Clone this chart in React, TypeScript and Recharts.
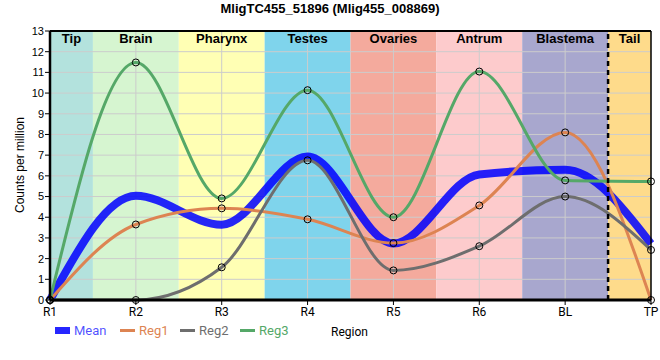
import React from "react";
import {
  LineChart,
  Line,
  XAxis,
  YAxis,
  ReferenceArea,
  ReferenceLine,
} from "recharts";

// ---- data ----
const categories = ["R1", "R2", "R3", "R4", "R5", "R6", "BL", "TP"];
const meanValues = [0, 5.04, 3.64, 6.93, 2.73, 6.07, 6.29, 2.72];
const reg1Values = [0, 3.65, 4.43, 3.9, 2.75, 4.57, 8.1, 0];
const reg2Values = [0, 0, 1.58, 6.75, 1.43, 2.6, 5.0, 2.42];
const reg3Values = [0, 11.48, 4.91, 10.14, 4.0, 11.04, 5.78, 5.73];

const bandNames = ["Tip", "Brain", "Pharynx", "Testes", "Ovaries", "Antrum", "Blastema", "Tail"];
const bandStarts = [0, 0.5, 1.5, 2.5, 3.5, 4.5, 5.5, 6.5];
const bandEnds = [0.5, 1.5, 2.5, 3.5, 4.5, 5.5, 6.5, 7];
const bandColors = ["#b3e2dd", "#d6f5d0", "#ffffb4", "#7fd4ec", "#f4aa9d", "#fdcbcc", "#a8a7ce", "#fedb8b"];

const yTicks = [0, 1, 2, 3, 4, 5, 6, 7, 8, 9, 10, 11, 12, 13];
const xTicks = [0, 1, 2, 3, 4, 5, 6, 7];
const tailBoundary = 6.5;

const title = "MligTC455_51896 (Mlig455_008869)";
const yLabel = "Counts per million";
const xLabel = "Region";

const seriesNames = ["Mean", "Reg1", "Reg2", "Reg3"];
const seriesColors = ["#0000ff", "#dd8452", "#6e6e6e", "#55a868"];

const data = categories.map((c, i) => ({
  x: i,
  Mean: meanValues[i],
  Reg1: reg1Values[i],
  Reg2: reg2Values[i],
  Reg3: reg3Values[i],
}));

const dotStyle = { r: 3.5, fill: "none", stroke: "#000", strokeWidth: 1 };

export default function App() {
  return (
    <div style={{ position: "absolute", left: 0, top: 0, width: 660, height: 360, background: "#fff" }}>
      <LineChart
        width={660}
        height={360}
        data={data}
        margin={{ top: 31, right: 9, left: 0, bottom: 30 }}
      >
        {bandNames.map((n, i) => (
          <ReferenceArea
            key={"band" + n}
            x1={bandStarts[i]}
            x2={bandEnds[i]}
            y1={0}
            y2={13}
            fill={bandColors[i]}
            fillOpacity={1}
            stroke="none"
            zIndex={50}
          />
        ))}
        {yTicks.slice(1, -1).map((t) => (
          <ReferenceLine key={"gy" + t} y={t} stroke="#cccccc" strokeWidth={1} zIndex={60} />
        ))}
        {xTicks.slice(1, -1).map((t) => (
          <ReferenceLine key={"gx" + t} x={t} stroke="#cccccc" strokeWidth={1} zIndex={60} />
        ))}
        {bandNames.map((n, i) => (
          <ReferenceArea
            key={"lab" + n}
            x1={bandStarts[i]}
            x2={bandEnds[i]}
            y1={0}
            y2={13}
            fill="none"
            fillOpacity={0}
            stroke="none"
            zIndex={70}
            label={{
              value: n,
              position: "insideTop",
              offset: 3,
              fill: "#000",
              fontSize: 13,
              fontWeight: "bold",
              fontFamily: "'Liberation Sans', Arial, sans-serif",
            }}
          />
        ))}
        <XAxis
          dataKey="x"
          type="number"
          domain={[0, 7]}
          ticks={xTicks}
          interval={0}
          tickFormatter={(v: number) => categories[v]}
          axisLine={{ stroke: "#000", strokeWidth: 3 }}
          tickLine={{ stroke: "#000", strokeWidth: 1 }}
          tickSize={5}
          tickMargin={2}
          height={30}
          tick={{ fill: "#000", fontSize: 12, fontFamily: "Roboto, sans-serif" }}
        />
        <YAxis
          type="number"
          domain={[0, 13]}
          ticks={yTicks}
          interval={0}
          width={50}
          axisLine={{ stroke: "#000", strokeWidth: 2.5 }}
          tickLine={{ stroke: "#000", strokeWidth: 1 }}
          tickSize={5}
          tickMargin={1}
          tick={{ fill: "#000", fontSize: 11, fontFamily: "'Liberation Sans', Arial, sans-serif" }}
        />
        <Line
          type="monotone"
          dataKey="Mean"
          stroke={seriesColors[0]}
          strokeOpacity={0.85}
          strokeWidth={8}
          dot={false}
          activeDot={false}
          isAnimationActive={false}
        />
        <Line
          type="monotone"
          dataKey="Reg1"
          stroke={seriesColors[1]}
          strokeWidth={3}
          dot={dotStyle}
          activeDot={false}
          isAnimationActive={false}
        />
        <Line
          type="monotone"
          dataKey="Reg2"
          stroke={seriesColors[2]}
          strokeWidth={3}
          dot={dotStyle}
          activeDot={false}
          isAnimationActive={false}
        />
        <Line
          type="monotone"
          dataKey="Reg3"
          stroke={seriesColors[3]}
          strokeWidth={3}
          dot={dotStyle}
          activeDot={false}
          isAnimationActive={false}
        />
        <ReferenceLine x={tailBoundary} stroke="#000" strokeWidth={2.5} strokeDasharray="5 4" zIndex={450} />
        <ReferenceLine y={13} stroke="#000" strokeWidth={2} zIndex={450} />
        <ReferenceLine x={7} stroke="#000" strokeWidth={1.5} zIndex={450} />
      </LineChart>
      <svg
        width={660}
        height={360}
        style={{ position: "absolute", left: 0, top: 0, pointerEvents: "none" }}
      >
        <text
          x={330}
          y={13.3}
          textAnchor="middle"
          fontSize={13}
          fontWeight="bold"
          fontFamily="'Liberation Sans', Arial, sans-serif"
          fill="#000"
        >
          {title}
        </text>
        <text
          x={24}
          y={165}
          transform="rotate(-90 24 165)"
          textAnchor="middle"
          fontSize={12}
          fontFamily="'Liberation Sans', Arial, sans-serif"
          fill="#000"
        >
          {yLabel}
        </text>
        <text x={331} y={335.5} fontSize={12} fontFamily="Roboto, sans-serif" fill="#000">
          {xLabel}
        </text>
        {seriesNames.map((n, i) => {
          const x0 = [55, 120, 180, 240][i];
          return (
            <g key={"leg" + n}>
              {i === 0 ? (
                <rect x={x0} y={327} width={15} height={7} fill={seriesColors[0]} fillOpacity={0.85} />
              ) : (
                <line x1={x0} x2={x0 + 15} y1={330.5} y2={330.5} stroke={seriesColors[i]} strokeWidth={3} />
              )}
              <text
                x={x0 + 19}
                y={335}
                fontSize={13}
                fontFamily="Roboto, sans-serif"
                fill={seriesColors[i]}
                fillOpacity={i === 0 ? 0.7 : 1}
              >
                {n}
              </text>
            </g>
          );
        })}
      </svg>
    </div>
  );
}
